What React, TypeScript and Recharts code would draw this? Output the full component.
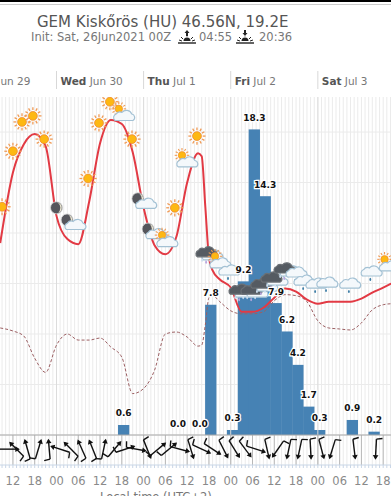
import {
  Bar,
  CartesianGrid,
  ComposedChart,
  Line,
  ReferenceLine,
  Scatter,
  XAxis,
  YAxis,
} from "recharts";

// hours are counted from Wed Jun 30 00Z
const tempHours = [-15.5, -12, -9, -6, -3, 0, 3, 6, 9, 12, 15, 18, 21, 24, 27, 30, 33, 36, 39, 40, 41, 42, 43, 45, 48, 51, 54, 57, 60, 63, 66, 69, 72, 75, 78, 81, 84, 87, 90, 92.2];
const temperature = [19, 26, 28.8, 29.8, 28.6, 21.7, 19.4, 18.9, 23.1, 28.9, 31.2, 30.8, 28, 22.5, 18.8, 17.9, 19.6, 25, 27.9, 27.6, 22.6, 17.6, 16.3, 15.4, 14.6, 12.2, 12.2, 12.6, 13.6, 14.5, 14.2, 13.4, 13, 13.2, 13.2, 13.2, 13.5, 14.1, 14.6, 15];
const dewPoint = [10.6, 10.3, 9.8, 7.6, 6.2, 8.9, 10, 9.4, 9.4, 9.6, 8.7, 7.7, 4.1, 4.6, 6.4, 10, 10.2, 9.7, 8.8, 8.9, 10.9, 13.6, 13.8, 13.2, 12.3, 12, 12, 12.2, 13.3, 13.9, 13.8, 13.2, 11.3, 10.6, 10.5, 10.4, 11.1, 12.4, 12.9, 13];

const rainHours = [18.5, 33.5, 39.5, 42.5, 48.5, 51.5, 54.5, 57.5, 60.5, 63.5, 66.5, 69.5, 72.5, 81.5, 87.5];
const rainfall = [0.6, 0, 0, 7.8, 0.3, 9.2, 18.3, 14.3, 7.9, 6.2, 4.2, 1.7, 0.3, 0.9, 0.2];

const iconHours = [-15, -12, -9.5, -6.5, -3.4, 0, 4.3, 8.7, 11.7, 14.7, 18, 20.8, 23.8, 26.6, 29.9, 32.6, 35.4, 38.7, 41.5, 44.5, 47.8, 50.6, 53.9, 56.6, 59.4, 63, 66.3, 68.5, 71.8, 74.8, 81.1, 87, 91.2];
const iconTemps = [22.6, 28.1, 31, 31.6, 29.3, 22.5, 21, 25.4, 30.9, 33, 31.9, 29.3, 23.1, 20.1, 19.4, 22.5, 27.3, 29.6, 18.1, 17.3, 16.3, 14.4, 14.4, 15, 15.6, 16.5, 16.1, 15.3, 15, 15.1, 15, 16.2, 17];
const iconKinds = ["sun", "sun", "sun", "sun", "sun", "moon", "moonCloud", "sun", "sun", "sun", "sunCloud", "sun", "moonCloud", "moonCloud", "sunCloud", "sun", "sunCloud", "sun", "storm", "sunCloud", "rainCloud", "storm", "storm", "storm", "storm", "storm", "rainCloud", "rainCloud", "rainCloud", "rainCloud", "rainCloud", "rainCloud", "sunCloud"];

const windHours = [-13, -11, -8, -5, -2, 1, 4, 7, 10, 13, 16, 19, 22, 25, 28, 31, 34, 37, 40, 43, 46, 49, 52, 55, 58, 61, 64, 67, 70, 73, 76, 82, 88];
const windHeadings = [90, -45, -16, 17, -5, -72, -45, -24, -22, 12, 40, 72, 100, 158, 50, 50, 105, 163, 115, 123, 153, 148, 143, 108, 167, -145, -168, -168, 177, 165, -163, 173, -177];

const hourTicks = [-15, -14, -13, -12, -11, -10, -9, -8, -7, -6, -5, -4, -3, -2, -1, 0, 1, 2, 3, 4, 5, 6, 7, 8, 9, 10, 11, 12, 13, 14, 15, 16, 17, 18, 19, 20, 21, 22, 23, 24, 25, 26, 27, 28, 29, 30, 31, 32, 33, 34, 35, 36, 37, 38, 39, 40, 41, 42, 43, 44, 45, 46, 47, 48, 49, 50, 51, 52, 53, 54, 55, 56, 57, 58, 59, 60, 61, 62, 63, 64, 65, 66, 67, 68, 69, 70, 71, 72, 73, 74, 75, 76, 77, 78, 79, 80, 81, 82, 83, 84, 85, 86, 87, 88, 89, 90, 91, 92];
const sixHourTicks = [-12, -6, 0, 6, 12, 18, 24, 30, 36, 42, 48, 54, 60, 66, 72, 78, 84, 90];
const dayHours = [-24, 0, 24, 48, 72];
const dayNames = ["Tue", "Wed", "Thu", "Fri", "Sat"];
const dayDates = ["Jun 29", "Jun 30", "Jul 1", "Jul 2", "Jul 3"];
const tempLevels = [0, 5, 10, 15, 20, 25, 30];

const FONT = "'DejaVu Sans', sans-serif";
const X_DOMAIN: [number, number] = [-15.56, 92.15];
const TEMP_DOMAIN: [number, number] = [-2.97, 33.47];
const RAIN_DOMAIN: [number, number] = [-1.796, 20.24];
const BAR_WIDTH = 11.3;

const rainPoints = rainHours.map((h, i) => ({ h, rain: rainfall[i] }));
const rows = [
  ...tempHours.map((h, i) => ({ h, temp: temperature[i], dew: dewPoint[i] })),
  ...rainPoints,
].sort((a, b) => a.h - b.h);
const icons = iconHours.map((h, i) => ({ h, t: iconTemps[i], kind: iconKinds[i] }));
const winds = windHours.map((h, i) => ({ h, t: -1.4, heading: windHeadings[i] }));

const RAY_ANGLES = [0, 30, 60, 90, 120, 150, 180, 210, 240, 270, 300, 330];

function Sun({ x, y, size = 1 }: { x: number; y: number; size?: number }) {
  return (
    <g transform={`translate(${x},${y}) scale(${size})`}>
      {RAY_ANGLES.map((a) => (
        <line key={a} x1={0} y1={-5.8} x2={0} y2={-8.6} stroke="#f09a55" strokeWidth={1.3} transform={`rotate(${a})`} />
      ))}
      <circle r={4.4} fill="#fdb813" stroke="#f08a30" strokeWidth={0.8} />
    </g>
  );
}

function Moon({ x, y }: { x: number; y: number }) {
  return (
    <g transform={`translate(${x},${y})`}>
      <circle r={6} fill="#55565c" stroke="#d8d8d8" strokeWidth={0.8} />
      <path d="M1.5,-5 A5.2,5.2 0 0 1 1.5,5 A6.5,6.5 0 0 0 1.5,-5 Z" fill="#e8e4d0" />
    </g>
  );
}

function Cloud({ x, y, dark }: { x: number; y: number; dark?: boolean }) {
  return (
    <path
      transform={`translate(${x},${y}) scale(1.15)`}
      d="M-8.5,4 A3.2,3.2 0 0 1 -7.5,-1.6 A4,4 0 0 1 -2.5,-3 A5,5 0 0 1 6,-1.6 A3,3 0 0 1 7,4 Z"
      fill={dark ? "#555b62" : "#f4f8fb"}
      stroke={dark ? "#6b7075" : "#a3c1d4"}
      strokeWidth={1}
    />
  );
}

function Drop({ x, y, color = "#3f7fa8" }: { x: number; y: number; color?: string }) {
  return <ellipse cx={x} cy={y} rx={0.9} ry={1.6} fill={color} />;
}

function WeatherIcon({ cx, cy, payload }: any) {
  const kind = payload.kind;
  if (kind === "sun") return <Sun x={cx} y={cy} />;
  if (kind === "moon") return <Moon x={cx} y={cy} />;
  if (kind === "moonCloud") {
    return (
      <g>
        <Moon x={cx - 5} y={cy - 3} />
        <Cloud x={cx + 4} y={cy + 2} />
      </g>
    );
  }
  if (kind === "sunCloud") {
    return (
      <g>
        <Sun x={cx - 3} y={cy - 4} size={0.85} />
        <Cloud x={cx + 3} y={cy + 3} />
      </g>
    );
  }
  if (kind === "rainCloud") {
    return (
      <g>
        <Cloud x={cx} y={cy} />
        <Drop x={cx - 2} y={cy + 8} />
      </g>
    );
  }
  return (
    <g>
      <Cloud x={cx + 6} y={cy + 3} />
      <Cloud x={cx} y={cy} dark />
      <Drop x={cx - 5} y={cy + 8} color="#cfe0f0" />
      <Drop x={cx - 1} y={cy + 10} color="#b9a8e0" />
      <Drop x={cx + 3} y={cy + 8} color="#cfe0f0" />
    </g>
  );
}

function WindBarb({ cx, cy, payload }: any) {
  return (
    <g transform={`translate(${cx},${cy}) rotate(${payload.heading})`} stroke="#111" fill="none" strokeWidth={1.4}>
      <line x1={0} y1={10} x2={0} y2={-9} />
      <line x1={0} y1={10} x2={-6} y2={11} />
      <path d="M-2.8,-6 L0,-10.5 L2.8,-6 Z" fill="#111" stroke="none" />
    </g>
  );
}

function HourTick({ x, y, payload }: any) {
  if (!sixHourTicks.includes(payload.value)) return null;
  const hour = ((payload.value % 24) + 24) % 24;
  return (
    <text x={x} y={y + 15} textAnchor="middle" fontFamily={FONT} fontSize={11.5} fill="#8a8a8a">
      {String(hour).padStart(2, "0")}
    </text>
  );
}

function DayTick({ x, y, payload }: any) {
  const i = dayHours.indexOf(payload.value);
  return (
    <g>
      <line x1={x} x2={x} y1={y} y2={y - 18} stroke="#d8d8d8" />
      <text x={x + 4} y={y - 4} fontFamily={FONT} fontSize={10.5} fill="#777">
        <tspan fontWeight="bold" fill="#555">{dayNames[i]}</tspan>
        <tspan> {dayDates[i]}</tspan>
      </text>
    </g>
  );
}

function RainBar({ x, y, width, height, fill }: any) {
  return <rect x={x + width / 2 - BAR_WIDTH / 2} y={y} width={BAR_WIDTH} height={height} fill={fill} />;
}

function RainLabel({ cx, cy, payload }: any) {
  return (
    <text
      x={cx}
      y={cy - 8.5}
      textAnchor="middle"
      fontFamily={FONT}
      fontSize={9}
      fontWeight="bold"
      fill="#111"
      stroke="#fff"
      strokeWidth={2.5}
      paintOrder="stroke"
    >
      {payload.rain.toFixed(1)}
    </text>
  );
}

function SunMark({ left, up }: { left: number; up: boolean }) {
  return (
    <svg width={18} height={16} style={{ position: "absolute", left, top: 29 }}>
      <path d={up ? "M9,1 L6.5,4 L8,4 L8,7 L10,7 L10,4 L11.5,4 Z" : "M9,7 L6.5,4 L8,4 L8,1 L10,1 L10,4 L11.5,4 Z"} fill="#222" />
      <path d="M5.5,12 A3.5,3.5 0 0 1 12.5,12 Z" fill="#222" />
      <path d="M3,8 L5,10 M15,8 L13,10 M1,11 L4,12 M17,11 L14,12 M9,7.5 L9,8" stroke="#222" />
      <line x1={0} x2={18} y1={14} y2={14} stroke="#222" strokeWidth={1.4} />
    </svg>
  );
}

const textStyle = { position: "absolute", fontFamily: FONT, whiteSpace: "nowrap" } as const;

export default function App() {
  return (
    <div style={{ position: "absolute", left: 0, top: 0, width: 391, height: 496, overflow: "hidden", background: "#fff" }}>
      <ComposedChart
        width={391}
        height={496}
        data={rows}
        margin={{ top: 79, right: 0, bottom: 0, left: 0 }}
      >
        <XAxis
          xAxisId="hours"
          dataKey="h"
          type="number"
          scale="linear"
          domain={X_DOMAIN}
          allowDataOverflow
          ticks={hourTicks}
          interval={0}
          height={31}
          tick={<HourTick />}
          tickSize={3}
          stroke="#c9d6e6"
        />
        <XAxis
          xAxisId="days"
          orientation="top"
          dataKey="h"
          type="number"
          scale="linear"
          domain={X_DOMAIN}
          allowDataOverflow
          ticks={dayHours}
          interval={0}
          height={18}
          tick={<DayTick />}
          tickLine={false}
          axisLine={false}
        />
        <YAxis yAxisId="temp" hide domain={TEMP_DOMAIN} allowDataOverflow />
        <YAxis yAxisId="rain" hide domain={RAIN_DOMAIN} allowDataOverflow />
        <CartesianGrid
          xAxisId="hours"
          yAxisId="temp"
          verticalValues={hourTicks}
          horizontalValues={tempLevels}
          stroke="#ebebeb"
        />
        {dayHours.map((h) => (
          <ReferenceLine key={h} xAxisId="hours" yAxisId="temp" x={h} stroke="#dcdcdc" />
        ))}
        {sixHourTicks.map((h) => (
          <ReferenceLine
            key={h}
            xAxisId="hours"
            yAxisId="temp"
            segment={[{ x: h, y: TEMP_DOMAIN[0] }, { x: h, y: 0 }]}
            stroke="#b8b8b8"
          />
        ))}
        <ReferenceLine xAxisId="hours" yAxisId="temp" y={0} stroke="#a8a8a8" />
        <Bar xAxisId="hours" yAxisId="rain" dataKey="rain" fill="#4682b4" shape={<RainBar />} isAnimationActive={false} />
        <Line
          xAxisId="hours"
          yAxisId="temp"
          type="monotone"
          dataKey="dew"
          stroke="#9c5f62"
          strokeWidth={1}
          strokeDasharray="3 2"
          dot={false}
          connectNulls
          isAnimationActive={false}
        />
        <Line
          xAxisId="hours"
          yAxisId="temp"
          type="monotone"
          dataKey="temp"
          stroke="#e23a44"
          strokeWidth={2}
          dot={false}
          connectNulls
          isAnimationActive={false}
        />
        <Scatter xAxisId="hours" yAxisId="temp" data={icons} dataKey="t" shape={<WeatherIcon />} isAnimationActive={false} />
        <Scatter xAxisId="hours" yAxisId="rain" data={rainPoints} dataKey="rain" shape={<RainLabel />} isAnimationActive={false} />
        <Scatter xAxisId="hours" yAxisId="temp" data={winds} dataKey="t" shape={<WindBarb />} isAnimationActive={false} />
      </ComposedChart>

      <div style={{ position: "absolute", left: 0, top: 0, width: 391, height: 1.5, background: "#000" }} />
      <div style={{ position: "absolute", left: 0, top: 4, width: 391, height: 1, background: "#ccc" }} />
      <div style={{ ...textStyle, left: 37, top: 13, fontSize: 15, color: "#555" }}>GEM Kiskőrös (HU) 46.56N, 19.2E</div>
      <div style={{ ...textStyle, left: 31, top: 30, fontSize: 11.5, color: "#777" }}>Init: Sat, 26Jun2021 00Z</div>
      <SunMark left={178} up />
      <div style={{ ...textStyle, left: 199, top: 30, fontSize: 11.5, color: "#777" }}>04:55</div>
      <SunMark left={236} up={false} />
      <div style={{ ...textStyle, left: 259, top: 30, fontSize: 11.5, color: "#777" }}>20:36</div>
      <div style={{ ...textStyle, left: 100, top: 490, fontSize: 11.5, color: "#777" }}>Local time (UTC+2)</div>
    </div>
  );
}
